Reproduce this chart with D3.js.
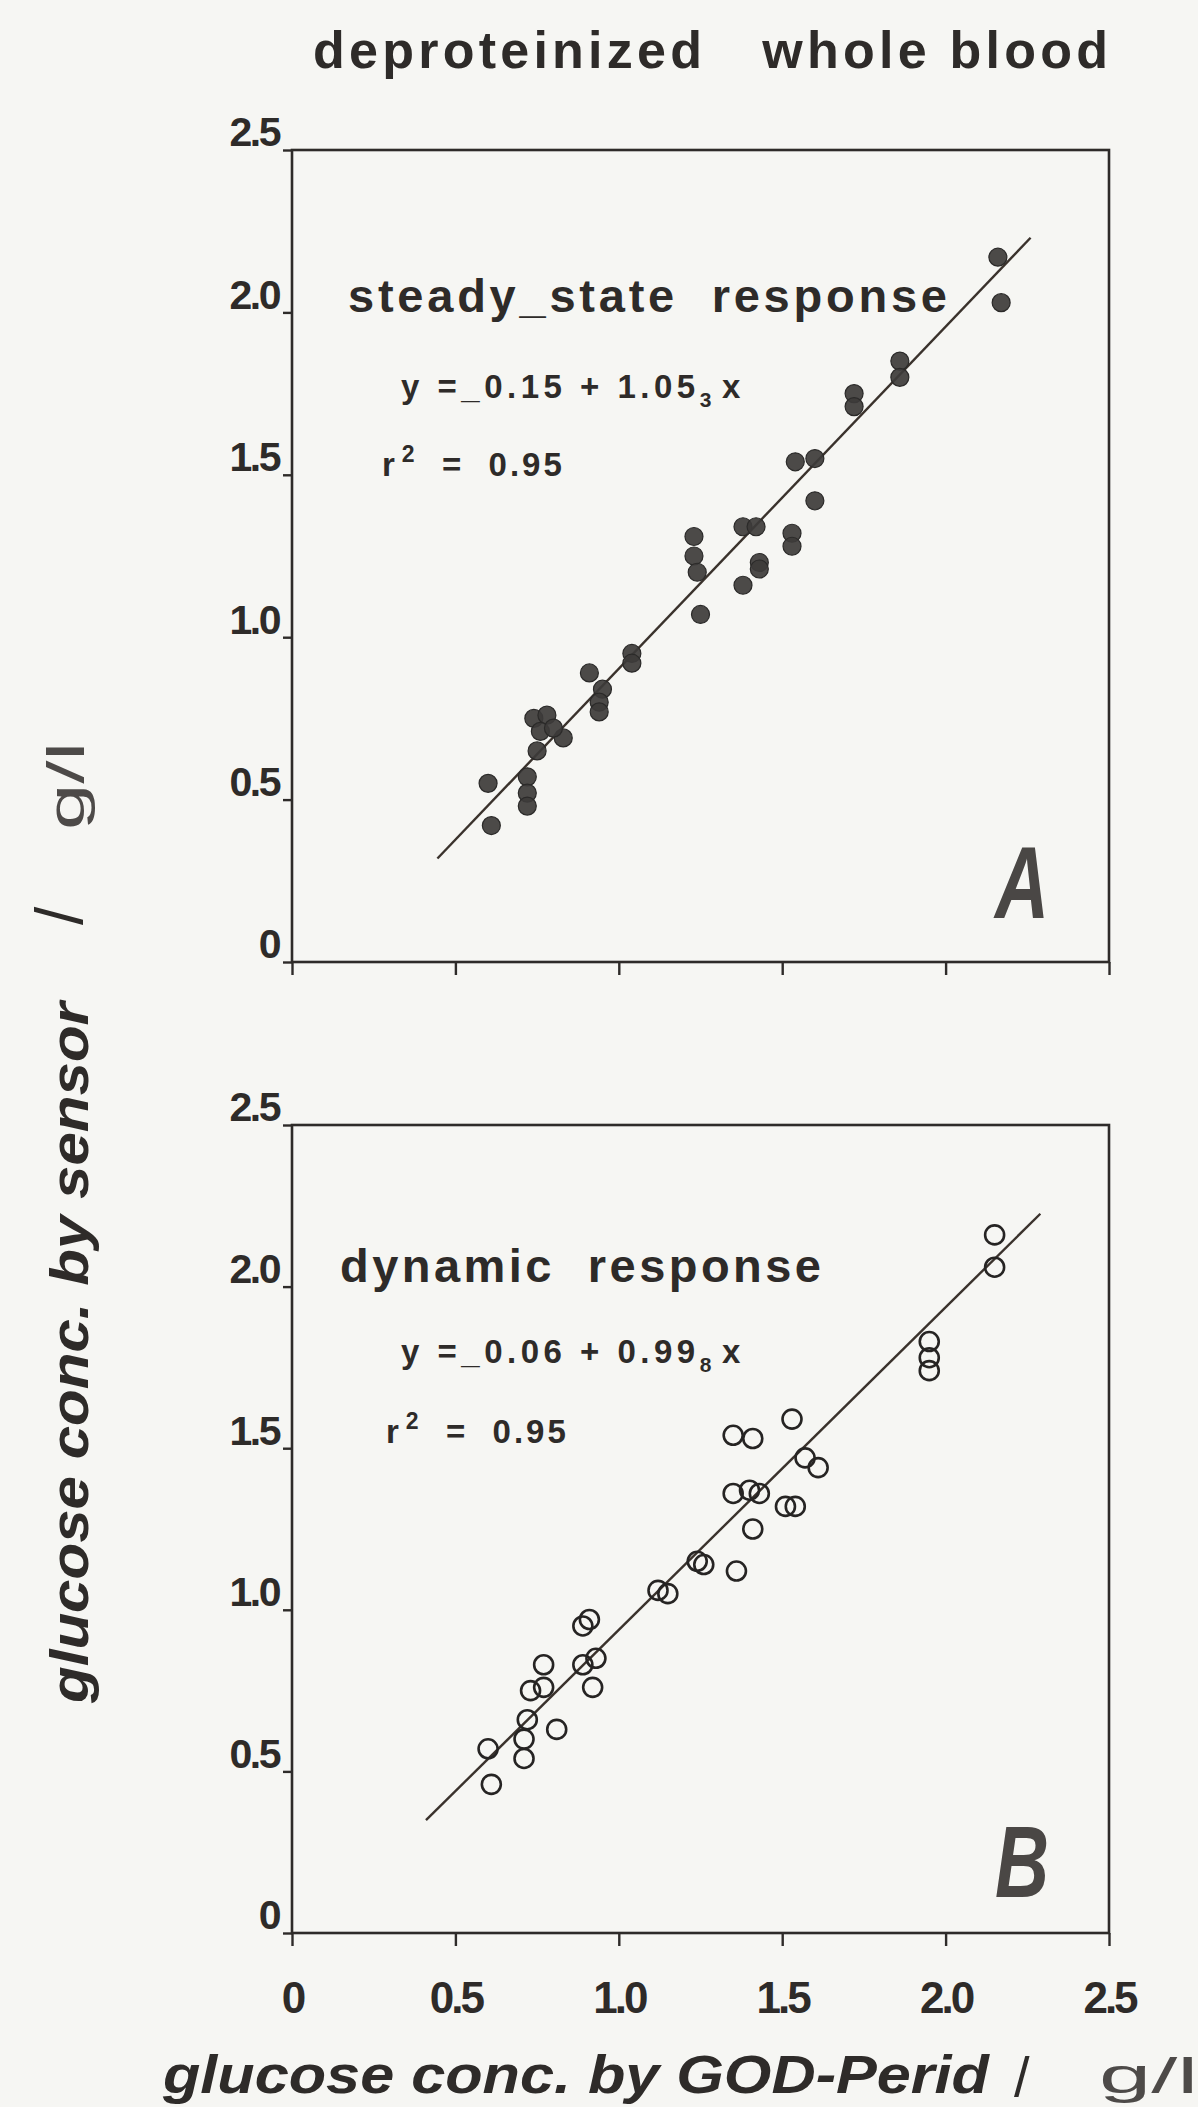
<!DOCTYPE html>
<html>
<head>
<meta charset="utf-8">
<script src="https://cdn.jsdelivr.net/npm/d3@7"></script>
<style>
  body { margin: 0; background: #f6f6f3; }
  svg text { fill: #2e2b29; font-family: "Liberation Sans", Arial, sans-serif; white-space: pre; }
</style>
</head>
<body>
<svg id="chart" width="1198" height="2107"></svg>
<script>
// panel A - steady-state response (filled dots), values in g/l
const steadyX = [0.61, 0.60, 0.72, 0.72, 0.72, 0.75, 0.74, 0.78, 0.76, 0.83, 0.80, 0.91, 0.95, 0.94, 0.94,
                 1.04, 1.04, 1.25, 1.23, 1.23, 1.24, 1.38, 1.42, 1.43, 1.43, 1.38, 1.53, 1.53,
                 1.54, 1.60, 1.60, 1.72, 1.72, 1.86, 1.86, 2.16, 2.17];
const steadyY = [0.42, 0.55, 0.57, 0.52, 0.48, 0.65, 0.75, 0.76, 0.71, 0.69, 0.72, 0.89, 0.84, 0.80, 0.77,
                 0.95, 0.92, 1.07, 1.31, 1.25, 1.20, 1.34, 1.34, 1.23, 1.21, 1.16, 1.32, 1.28,
                 1.54, 1.55, 1.42, 1.75, 1.71, 1.85, 1.80, 2.17, 2.03];

// panel B - dynamic response (open circles)
const dynamicX = [0.61, 0.60, 0.71, 0.71, 0.72, 0.81, 0.73, 0.77, 0.77, 0.89, 0.93, 0.92, 0.89, 0.91,
                  1.12, 1.15, 1.24, 1.26, 1.36, 1.41, 1.35, 1.40, 1.43, 1.51, 1.54, 1.57, 1.61,
                  1.53, 1.35, 1.41, 1.95, 1.95, 1.95, 2.15, 2.15];
const dynamicY = [0.46, 0.57, 0.54, 0.60, 0.66, 0.63, 0.75, 0.76, 0.83, 0.83, 0.85, 0.76, 0.95, 0.97,
                  1.06, 1.05, 1.15, 1.14, 1.12, 1.25, 1.36, 1.37, 1.36, 1.32, 1.32, 1.47, 1.44,
                  1.59, 1.54, 1.53, 1.83, 1.78, 1.74, 2.16, 2.06];

// regression lines: [intercept, slope] and drawn x range
const fitA = [-0.15, 1.053];
const fitRangeA = [0.445, 2.26];
const fitB = [-0.06, 0.998];
const fitRangeB = [0.41, 2.29];

const tickValues = [0, 0.5, 1.0, 1.5, 2.0, 2.5];
const tickLabels = ["0", "0.5", "1.0", "1.5", "2.0", "2.5"];

const ink = "#2e2b29";
const svg = d3.select("#chart");

const x = d3.scaleLinear().domain([0, 2.5]).range([292, 1109]);
const yA = d3.scaleLinear().domain([0, 2.5]).range([962, 150]);
const yB = d3.scaleLinear().domain([0, 2.5]).range([1933, 1125]);

// title
svg.append("text")
    .attr("x", 313).attr("y", 68)
    .attr("textLength", 795).attr("lengthAdjust", "spacing")
    .style("font-size", "52px").style("font-weight", "600")
    .text("deproteinized   whole blood");

function drawPanel(p) {
    const y = p.y;
    const g = svg.append("g");

    // frame
    g.append("rect")
        .attr("x", x(0)).attr("y", y(2.5))
        .attr("width", x(2.5) - x(0)).attr("height", y(0) - y(2.5))
        .attr("fill", "none").attr("stroke", ink).attr("stroke-width", 2.6);

    // y axis
    const yAxis = g.append("g")
        .attr("transform", `translate(${x(0)},0)`)
        .call(d3.axisLeft(y).tickValues(tickValues)
            .tickFormat((d, i) => tickLabels[i]).tickSize(9).tickSizeOuter(0).tickPadding(4));
    yAxis.select(".domain").remove();
    yAxis.selectAll("line").attr("stroke", ink).attr("stroke-width", 2.4);
    yAxis.selectAll("text")
        .attr("dy", "-0.1em")
        .style("font-size", "41px").style("font-weight", "bold")
        .style("letter-spacing", "-2.5px").style("fill", ink);

    // x axis
    const xAxis = g.append("g")
        .attr("transform", `translate(0,${y(0)})`)
        .call(d3.axisBottom(x).tickValues(tickValues)
            .tickFormat(p.xLabels ? (d, i) => tickLabels[i] : "")
            .tickSize(13).tickSizeOuter(0).tickPadding(36));
    xAxis.select(".domain").remove();
    xAxis.selectAll("line").attr("stroke", ink).attr("stroke-width", 2.4);
    xAxis.selectAll("text")
        .style("font-size", "44px").style("font-weight", "bold")
        .style("letter-spacing", "-3px").style("fill", ink);

    // fitted line
    const lineX = p.fitRange;
    g.append("path")
        .datum(lineX.map(v => [v, p.fit[0] + p.fit[1] * v]))
        .attr("d", d3.line().x(d => x(d[0])).y(d => y(d[1])))
        .attr("stroke", "#3a322c").attr("stroke-width", 2.4).attr("fill", "none");

    // points
    g.append("g").selectAll("circle")
        .data(p.xs.map((v, i) => [v, p.ys[i]]))
        .enter().append("circle")
        .attr("cx", d => x(d[0]))
        .attr("cy", d => y(d[1]))
        .attr("r", p.filled ? 9 : 9.5)
        .attr("fill", p.filled ? "#3d3b3a" : "none")
        .attr("fill-opacity", 0.92)
        .attr("stroke", p.filled ? "#2b2a29" : "#262423")
        .attr("stroke-width", p.filled ? 1.2 : 2.6);

    // panel texts
    g.append("text")
        .attr("x", p.nameX).attr("y", p.nameY)
        .attr("textLength", p.nameLen).attr("lengthAdjust", "spacing")
        .style("font-size", "47px").style("font-weight", "600")
        .text(p.name);

    const eq = g.append("text")
        .attr("x", 401).attr("y", p.eqY)
        .style("font-size", "33px").style("font-weight", "bold")
        .style("letter-spacing", "4.5px");
    eq.append("tspan").text(p.eq[0]);
    eq.append("tspan").attr("dy", 9).style("font-size", "21px").text(p.eq[1]);
    eq.append("tspan").attr("dy", -9).attr("dx", 6).text("x");

    const r2 = g.append("text")
        .attr("x", p.r2X).attr("y", p.r2Y)
        .style("font-size", "33px").style("font-weight", "bold")
        .style("letter-spacing", "3px");
    r2.append("tspan").text("r");
    r2.append("tspan").attr("dx", 4).attr("dy", -14).style("font-size", "23px").text("2");
    r2.append("tspan").attr("dy", 14).text("  =  0.95");

    g.append("text")
        .attr("x", 995).attr("y", p.letterY)
        .attr("textLength", 54).attr("lengthAdjust", "spacingAndGlyphs")
        .style("font-size", "102px").style("font-weight", "bold").style("font-style", "italic")
        .style("fill", "#4a4745")
        .text(p.letter);
}

drawPanel({
    y: yA, xs: steadyX, ys: steadyY, filled: true, xLabels: false,
    fit: fitA, fitRange: fitRangeA,
    name: "steady_state  response", nameX: 348, nameY: 312, nameLen: 599,
    eq: ["y =_0.15 + 1.05", "3"], eqY: 398,
    r2X: 382, r2Y: 476, letter: "A", letterY: 918
});

drawPanel({
    y: yB, xs: dynamicX, ys: dynamicY, filled: false, xLabels: true,
    fit: fitB, fitRange: fitRangeB,
    name: "dynamic  response", nameX: 340, nameY: 1282, nameLen: 481,
    eq: ["y =_0.06 + 0.99", "8"], eqY: 1363,
    r2X: 386, r2Y: 1443, letter: "B", letterY: 1897
});

// y axis title (rotated)
const yt = svg.append("g").attr("transform", "translate(88,1703) rotate(-90)");
yt.append("text")
    .attr("x", 0).attr("y", 0)
    .attr("textLength", 701).attr("lengthAdjust", "spacingAndGlyphs")
    .style("font-size", "54px").style("font-weight", "bold").style("font-style", "italic")
    .text("glucose conc. by sensor");
yt.append("text")
    .attr("x", 778).attr("y", -6)
    .style("font-size", "66px").style("font-weight", "normal")
    .text("/");
yt.append("text")
    .attr("x", 873).attr("y", -4)
    .attr("textLength", 88).attr("lengthAdjust", "spacingAndGlyphs")
    .style("font-size", "52px").style("font-weight", "normal").style("fill", "#4d4a48")
    .text("g/l");

// x axis title
svg.append("text")
    .attr("x", 163).attr("y", 2093)
    .attr("textLength", 826).attr("lengthAdjust", "spacingAndGlyphs")
    .style("font-size", "54px").style("font-weight", "bold").style("font-style", "italic")
    .text("glucose conc. by GOD-Perid");
svg.append("text")
    .attr("x", 1014).attr("y", 2096)
    .style("font-size", "56px").style("font-weight", "normal")
    .text("/");
svg.append("text")
    .attr("x", 1099).attr("y", 2093)
    .attr("textLength", 99).attr("lengthAdjust", "spacingAndGlyphs")
    .style("font-size", "50px").style("font-weight", "normal").style("fill", "#4d4a48")
    .text("g/l");
</script>
</body>
</html>
